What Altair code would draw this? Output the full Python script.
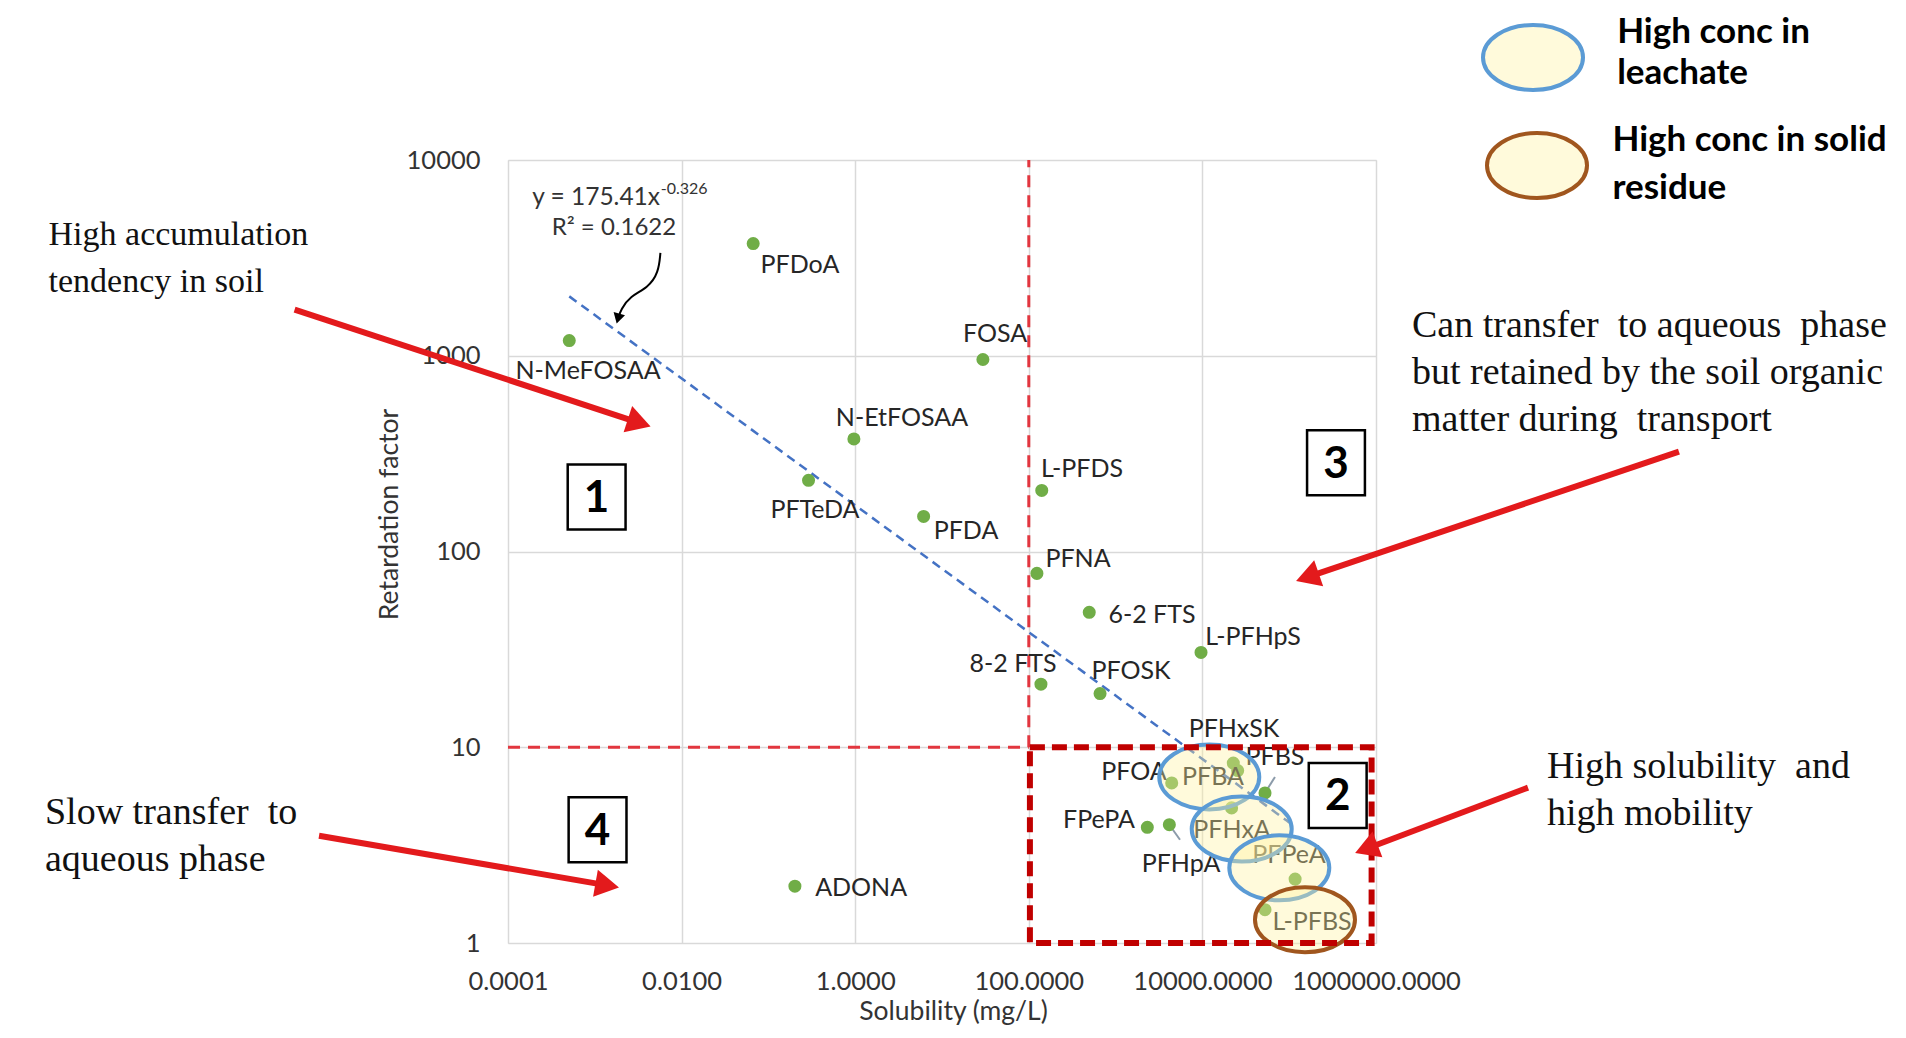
import altair as alt
import pandas as pd

# ---------------- data ----------------
names = ["N-MeFOSAA", "PFDoA", "FOSA", "N-EtFOSAA", "PFTeDA", "PFDA", "L-PFDS",
         "PFNA", "6-2 FTS", "L-PFHpS", "8-2 FTS", "PFOSK", "ADONA", "PFHxSK",
         "PFBA", "PFBS", "PFOA", "FPePA", "PFHpA", "PFHxA", "PFPeA", "L-PFBS"]
solubility = [5.08e-4, 0.0668, 29.6, 0.966, 0.290, 6.14, 141, 124, 497, 9640,
              138, 662, 0.202, 22700, 25500, 52600, 4430, 2320, 4160, 21700,
              117000, 52600]
retardation = [1196, 3743, 957, 376, 231, 151, 205, 77.3, 48.9, 30.5, 21,
               18.8, 1.95, 8.3, 7.6, 5.84, 6.57, 3.90, 4.02, 4.9, 2.12, 1.48]

# label anchor positions (data units)
label_x = [8.36e-4, 0.231, 40.8, 3.46, 0.344, 18.9, 410, 369, 2624, 38280,
           65.8, 1503, 1.17, 23120, 13240, 68550, 1629, 644, 5666, 21930,
           99540, 183200]
label_y = [840, 2924, 1298, 483, 162, 128, 265, 92, 47.6, 36.7, 26.7, 24.6,
           1.92, 12.4, 7.08, 8.95, 7.5, 4.27, 2.54, 3.79, 2.83, 1.285]

x_ticks = [1e-4, 1e-2, 1, 100, 1e4, 1e6]
y_ticks = [1, 10, 100, 1000, 10000]

# threshold lines and highlighted region
thr_x = 100
thr_y = 10
box_x = [103, 8.9e5]
box_y = [1, 10]

# ellipses (centres, data units)
leach_x = [12000, 28370, 76900, 6.44e7]
leach_y = [7.05, 3.82, 2.42, 33400]
resid_x = [152000, 7.16e7]
resid_y = [1.315, 9376]

# leader lines
lead_x = [52600, 4160]
lead_y = [5.84, 4.02]
lead_x2 = [68550, 5520]
lead_y2 = [7.05, 3.37]

# quadrant boxes
quad_txt = ["1", "2", "3", "4"]
quad_x = [1.05e-3, 3.62e5, 3.46e5, 1.076e-3]
quad_y = [190, 5.67, 284, 3.79]

# red arrows (start -> head)
arr_sx = [3.48e-7, 6.65e-7, 3.09e9, 5.64e7]
arr_sy = [1722, 3.53, 324, 6.22]
arr_hx = [3.25e-3, 1.39e-3, 1.62e5, 7.73e5]
arr_hy = [454, 1.97, 74, 3.03]
arr_ang = [108, 100, 251, 249]

# curved black arrow of the trendline equation
curve_x = [5.70e-3, 5.43e-3, 4.09e-3, 2.55e-3, 2.00e-3, 1.85e-3]
curve_y = [3357, 2655, 2223, 2014, 1722, 1549]

# annotation texts
noteA_txt = ["High accumulation", "tendency in soil"]
noteA_x = [5.09e-10, 5.09e-10]
noteA_y = [4162, 2395]

note_txt = ["Slow transfer\u00a0 to", "aqueous phase",
            "Can transfer\u00a0 to aqueous\u00a0 phase",
            "but retained by the soil organic",
            "matter during\u00a0 transport",
            "High solubility\u00a0 and", "high mobility"]
note_x = [4.63e-10, 4.63e-10, 2.6e6, 2.6e6, 2.6e6, 9.33e7, 9.33e7]
note_y = [4.63, 2.67, 1427, 821, 472, 7.96, 4.58]

leg_txt = ["High conc in", "leachate", "High conc in solid", "residue"]
leg_x = [6.0e8, 6.0e8, 5.3e8, 5.3e8]
leg_y = [44830, 27670, 12580, 7228]

# ---------------- frames ----------------
pts = pd.DataFrame({"name": names, "sol": solubility, "rf": retardation})
lab = pd.DataFrame({"name": names, "sol": label_x, "rf": label_y})

FONT = "Lato"
XS = alt.Scale(type="log", domain=[1e-4, 1e6])
YS = alt.Scale(type="log", domain=[1, 1e4])
XA = alt.Axis(values=x_ticks, format=".4f", title="Solubility (mg/L)", grid=True,
              gridColor="#D9D9D9", gridWidth=1.5, domain=False, ticks=False,
              labelFont=FONT, labelFontSize=25.5, labelColor="#333333",
              labelPadding=26, labelFlush=False, labelOverlap=False,
              titleFont=FONT, titleFontSize=26.5, titleFontWeight="normal",
              titleColor="#333333", titleX=445, titleY=68,
              titleBaseline="middle", titleAlign="center")
YA = alt.Axis(values=y_ticks, format="d", title="Retardation factor", grid=True,
              gridColor="#D9D9D9", gridWidth=1.5, domain=False, ticks=False,
              labelFont=FONT, labelFontSize=25.5, labelColor="#333333",
              labelPadding=28, labelFlush=False, labelOverlap=False,
              titleFont=FONT, titleFontSize=26.5, titleFontWeight="normal",
              titleColor="#333333", titleX=-119, titleY=354,
              titleAngle=270, titleBaseline="middle", titleAlign="center")


def X(f):
    return alt.X(f, type="quantitative", scale=XS, axis=XA)


def Y(f):
    return alt.Y(f, type="quantitative", scale=YS, axis=YA)


RED = "#E31A1C"
ELL = "M -1 0 A 1 0.65 0 1 1 1 0 A 1 0.65 0 1 1 -1 0 Z"
RECT = "M -0.89 -1 L 0.89 -1 L 0.89 1 L -0.89 1 Z"

# threshold dashed lines
vline = alt.Chart(pd.DataFrame({"sol": [thr_x], "rf": [thr_y], "rf2": [1e4]})).mark_rule(
    color="#E2363F", strokeWidth=3, strokeDash=[12, 8]).encode(x=X("sol"), y=Y("rf"), y2="rf2")
hline = alt.Chart(pd.DataFrame({"sol": [1e-4], "sol2": [thr_x], "rf": [thr_y]})).mark_rule(
    color="#E2363F", strokeWidth=3, strokeDash=[12, 8]).encode(x=X("sol"), x2="sol2", y=Y("rf"))

trend = alt.Chart(pts).transform_regression("sol", "rf", method="pow").mark_line(
    color="#4472C4", strokeWidth=2.5, strokeDash=[9, 6]).encode(x=X("sol"), y=Y("rf"))

leaders = alt.Chart(pd.DataFrame({"sol": lead_x, "rf": lead_y, "sol2": lead_x2, "rf2": lead_y2})).mark_rule(
    color="#8C9BAA", strokeWidth=2).encode(x=X("sol"), y=Y("rf"), x2="sol2", y2="rf2")

points = alt.Chart(pts).mark_point(filled=True, size=170, color="#70AD47", opacity=1).encode(
    x=X("sol"), y=Y("rf"))

labels = alt.Chart(lab).mark_text(font=FONT, fontSize=25, color="#262626",
                                  align="center", baseline="middle").encode(
    x=X("sol"), y=Y("rf"), text="name:N")

ell_blue = alt.Chart(pd.DataFrame({"sol": leach_x, "rf": leach_y})).mark_point(
    shape=ELL, size=10000, filled=True, fill="#FFF3A0", fillOpacity=0.38,
    stroke="#5B9BD5", strokeWidth=4, opacity=1).encode(x=X("sol"), y=Y("rf"))
ell_brown = alt.Chart(pd.DataFrame({"sol": resid_x, "rf": resid_y})).mark_point(
    shape=ELL, size=10000, filled=True, fill="#FFF3A0", fillOpacity=0.38,
    stroke="#A0561E", strokeWidth=4, opacity=1).encode(x=X("sol"), y=Y("rf"))

box = alt.Chart(pd.DataFrame({"sol": [box_x[0]], "sol2": [box_x[1]], "rf": [box_y[0]], "rf2": [box_y[1]]})).mark_rect(
    fillOpacity=0, stroke="#C00000", strokeWidth=6, strokeDash=[15, 7]).encode(
    x=X("sol"), x2="sol2", y=Y("rf"), y2="rf2")

qdf = pd.DataFrame({"t": quad_txt, "sol": quad_x, "rf": quad_y})
qbox = alt.Chart(qdf).mark_point(shape=RECT, size=4225, filled=True, fill="white",
                                 fillOpacity=1, stroke="black", strokeWidth=2.5,
                                 opacity=1).encode(x=X("sol"), y=Y("rf"))
qtxt = alt.Chart(qdf).mark_text(font=FONT, fontWeight="bold", fontSize=44, color="black",
                                align="center", baseline="middle", dy=2).encode(
    x=X("sol"), y=Y("rf"), text="t:N")

# equation annotation
eq1 = alt.Chart(pd.DataFrame({"sol": [5.64e-3], "rf": [6427], "t": ["y = 175.41x"]})).mark_text(
    font=FONT, fontSize=24.5, color="#333333", align="right", baseline="middle").encode(
    x=X("sol"), y=Y("rf"), text="t:N")
eq2 = alt.Chart(pd.DataFrame({"sol": [5.75e-3], "rf": [7145], "t": ["-0.326"]})).mark_text(
    font=FONT, fontSize=16, color="#333333", align="left", baseline="middle").encode(
    x=X("sol"), y=Y("rf"), text="t:N")
eq3 = alt.Chart(pd.DataFrame({"sol": [1.66e-3], "rf": [4519], "t": ["R\u00b2 = 0.1622"]})).mark_text(
    font=FONT, fontSize=24, color="#333333", align="center", baseline="middle").encode(
    x=X("sol"), y=Y("rf"), text="t:N")

cdf = pd.DataFrame({"sol": curve_x, "rf": curve_y, "o": list(range(len(curve_x)))})
curve = alt.Chart(cdf).mark_line(color="black", strokeWidth=2, interpolate="basis").encode(
    x=X("sol"), y=Y("rf"), order="o:Q")
chead = alt.Chart(pd.DataFrame({"sol": [curve_x[-1]], "rf": [curve_y[-1]], "a": [195]})).mark_point(
    shape="triangle-up", filled=True, color="black", size=140, opacity=1).encode(
    x=X("sol"), y=Y("rf"), angle=alt.Angle("a:Q", scale=None))

# red arrows
rows = []
for i in range(len(arr_sx)):
    rows.append({"id": i, "o": 0, "sol": arr_sx[i], "rf": arr_sy[i]})
    rows.append({"id": i, "o": 1, "sol": arr_hx[i], "rf": arr_hy[i]})
adf = pd.DataFrame(rows)
arrows = alt.Chart(adf).mark_line(color=RED, strokeWidth=6).encode(
    x=X("sol"), y=Y("rf"), detail="id:N", order="o:Q")
heads = alt.Chart(pd.DataFrame({"sol": arr_hx, "rf": arr_hy, "a": arr_ang})).mark_point(
    shape="triangle-up", filled=True, color=RED, size=760, opacity=1).encode(
    x=X("sol"), y=Y("rf"), angle=alt.Angle("a:Q", scale=None))

notesA = alt.Chart(pd.DataFrame({"t": noteA_txt, "sol": noteA_x, "rf": noteA_y})).mark_text(
    font="Liberation Serif", fontSize=34, color="#111111", align="left", baseline="middle").encode(
    x=X("sol"), y=Y("rf"), text="t:N")
notes = alt.Chart(pd.DataFrame({"t": note_txt, "sol": note_x, "rf": note_y})).mark_text(
    font="Liberation Serif", fontSize=38, color="#111111", align="left", baseline="middle").encode(
    x=X("sol"), y=Y("rf"), text="t:N")

legend_txt = alt.Chart(pd.DataFrame({"t": leg_txt, "sol": leg_x, "rf": leg_y})).mark_text(
    font=FONT, fontWeight="bold", fontSize=35, color="black", align="left", baseline="middle").encode(
    x=X("sol"), y=Y("rf"), text="t:N")

chart = alt.layer(
    vline, hline, trend, leaders, points, labels, ell_blue, ell_brown, box,
    qbox, qtxt, eq1, eq2, eq3, curve, chead, arrows, heads, notesA, notes, legend_txt
).properties(
    width=868, height=783,
    autosize=alt.AutoSizeParams(type="none"),
    padding={"left": 500, "top": 152, "right": 522, "bottom": 85},
    background="white",
).configure_view(stroke="black", strokeWidth=2).configure(font=FONT)

chart.save("out.html", embed_options={"renderer": "svg", "actions": False})
